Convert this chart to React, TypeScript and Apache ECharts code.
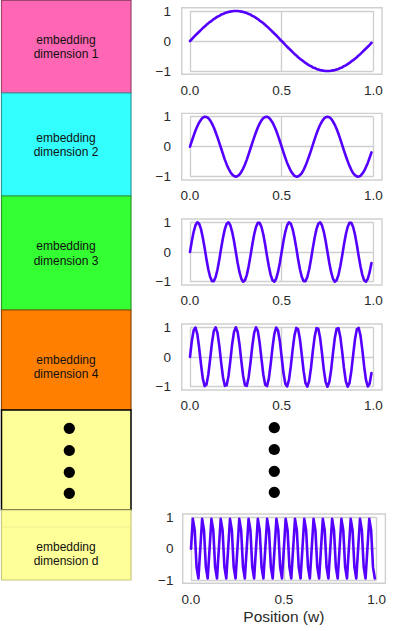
import React, { useEffect, useRef } from "react";
import * as echarts from "echarts";

// ---- data ----
const xTicks = [0, 0.5, 1];
const yTicks = [-1, 0, 1];
const sampleStep = 0.01; // positions w = 0.00, 0.01, ..., 0.99

const wave1 = [
  0, 0.06, 0.13, 0.19, 0.25, 0.31, 0.37, 0.43, 0.48, 0.54,
  0.59, 0.64, 0.68, 0.73, 0.77, 0.81, 0.84, 0.88, 0.9, 0.93,
  0.95, 0.97, 0.98, 0.99, 1.0, 1.0, 1.0, 0.99, 0.98, 0.97,
  0.95, 0.93, 0.9, 0.88, 0.84, 0.81, 0.77, 0.73, 0.68, 0.64,
  0.59, 0.54, 0.48, 0.43, 0.37, 0.31, 0.25, 0.19, 0.13, 0.06,
  0, -0.06, -0.13, -0.19, -0.25, -0.31, -0.37, -0.43, -0.48, -0.54,
  -0.59, -0.64, -0.68, -0.73, -0.77, -0.81, -0.84, -0.88, -0.9, -0.93,
  -0.95, -0.97, -0.98, -0.99, -1.0, -1.0, -1.0, -0.99, -0.98, -0.97,
  -0.95, -0.93, -0.9, -0.88, -0.84, -0.81, -0.77, -0.73, -0.68, -0.64,
  -0.59, -0.54, -0.48, -0.43, -0.37, -0.31, -0.25, -0.19, -0.13, -0.06,
];

const wave2 = [
  0, 0.19, 0.37, 0.54, 0.68, 0.81, 0.9, 0.97, 1.0, 0.99,
  0.95, 0.88, 0.77, 0.64, 0.48, 0.31, 0.13, -0.06, -0.25, -0.43,
  -0.59, -0.73, -0.84, -0.93, -0.98, -1.0, -0.98, -0.93, -0.84, -0.73,
  -0.59, -0.43, -0.25, -0.06, 0.13, 0.31, 0.48, 0.64, 0.77, 0.88,
  0.95, 0.99, 1.0, 0.97, 0.9, 0.81, 0.68, 0.54, 0.37, 0.19,
  0, -0.19, -0.37, -0.54, -0.68, -0.81, -0.9, -0.97, -1.0, -0.99,
  -0.95, -0.88, -0.77, -0.64, -0.48, -0.31, -0.13, 0.06, 0.25, 0.43,
  0.59, 0.73, 0.84, 0.93, 0.98, 1.0, 0.98, 0.93, 0.84, 0.73,
  0.59, 0.43, 0.25, 0.06, -0.13, -0.31, -0.48, -0.64, -0.77, -0.88,
  -0.95, -0.99, -1.0, -0.97, -0.9, -0.81, -0.68, -0.54, -0.37, -0.19,
];

const wave3 = [
  0, 0.37, 0.68, 0.9, 1.0, 0.95, 0.77, 0.48, 0.13, -0.25,
  -0.59, -0.84, -0.98, -0.98, -0.84, -0.59, -0.25, 0.13, 0.48, 0.77,
  0.95, 1.0, 0.9, 0.68, 0.37, 0, -0.37, -0.68, -0.9, -1.0,
  -0.95, -0.77, -0.48, -0.13, 0.25, 0.59, 0.84, 0.98, 0.98, 0.84,
  0.59, 0.25, -0.13, -0.48, -0.77, -0.95, -1.0, -0.9, -0.68, -0.37,
  0, 0.37, 0.68, 0.9, 1.0, 0.95, 0.77, 0.48, 0.13, -0.25,
  -0.59, -0.84, -0.98, -0.98, -0.84, -0.59, -0.25, 0.13, 0.48, 0.77,
  0.95, 1.0, 0.9, 0.68, 0.37, 0, -0.37, -0.68, -0.9, -1.0,
  -0.95, -0.77, -0.48, -0.13, 0.25, 0.59, 0.84, 0.98, 0.98, 0.84,
  0.59, 0.25, -0.13, -0.48, -0.77, -0.95, -1.0, -0.9, -0.68, -0.37,
];

const wave4 = [
  0, 0.54, 0.9, 0.99, 0.77, 0.31, -0.25, -0.73, -0.98, -0.93,
  -0.59, -0.06, 0.48, 0.88, 1.0, 0.81, 0.37, -0.19, -0.68, -0.97,
  -0.95, -0.64, -0.13, 0.43, 0.84, 1.0, 0.84, 0.43, -0.13, -0.64,
  -0.95, -0.97, -0.68, -0.19, 0.37, 0.81, 1.0, 0.88, 0.48, -0.06,
  -0.59, -0.93, -0.98, -0.73, -0.25, 0.31, 0.77, 0.99, 0.9, 0.54,
  0, -0.54, -0.9, -0.99, -0.77, -0.31, 0.25, 0.73, 0.98, 0.93,
  0.59, 0.06, -0.48, -0.88, -1.0, -0.81, -0.37, 0.19, 0.68, 0.97,
  0.95, 0.64, 0.13, -0.43, -0.84, -1.0, -0.84, -0.43, 0.13, 0.64,
  0.95, 0.97, 0.68, 0.19, -0.37, -0.81, -1.0, -0.88, -0.48, 0.06,
  0.59, 0.93, 0.98, 0.73, 0.25, -0.31, -0.77, -0.99, -0.9, -0.54,
];

const waveD = [
  0, 0.95, 0.59, -0.59, -0.95, 0, 0.95, 0.59, -0.59, -0.95,
  0, 0.95, 0.59, -0.59, -0.95, 0, 0.95, 0.59, -0.59, -0.95,
  0, 0.95, 0.59, -0.59, -0.95, 0, 0.95, 0.59, -0.59, -0.95,
  0, 0.95, 0.59, -0.59, -0.95, 0, 0.95, 0.59, -0.59, -0.95,
  0, 0.95, 0.59, -0.59, -0.95, 0, 0.95, 0.59, -0.59, -0.95,
  0, 0.95, 0.59, -0.59, -0.95, 0, 0.95, 0.59, -0.59, -0.95,
  0, 0.95, 0.59, -0.59, -0.95, 0, 0.95, 0.59, -0.59, -0.95,
  0, 0.95, 0.59, -0.59, -0.95, 0, 0.95, 0.59, -0.59, -0.95,
  0, 0.95, 0.59, -0.59, -0.95, 0, 0.95, 0.59, -0.59, -0.95,
  0, 0.95, 0.59, -0.59, -0.95, 0, 0.95, 0.59, -0.59, -0.95,
];

const waves = [wave1, wave2, wave3, wave4, waveD];
const boxLabels = [
  "embedding\ndimension 1",
  "embedding\ndimension 2",
  "embedding\ndimension 3",
  "embedding\ndimension 4",
  "embedding\ndimension d",
];
const xAxisTitle = "Position (w)";

// ---- layout / style ----
const FONT = '"Liberation Sans", Arial, sans-serif';
const LINE_COLOR = "#5500ff";
const GRID_COLOR = "#cfcfcf";
const TICK_COLOR = "#2a2a2a";

const plots = [
  { left: 190, top: 11, width: 183.3, height: 60, yMargin: 19 },
  { left: 190, top: 116.7, width: 183.3, height: 60, yMargin: 19 },
  { left: 190, top: 222.3, width: 183.3, height: 59.4, yMargin: 19 },
  { left: 190, top: 327.3, width: 183.3, height: 59.4, yMargin: 19 },
  { left: 191, top: 517.3, width: 185.7, height: 62.7, yMargin: 17.5 },
];

const boxes = [
  { y: 0.5, h: 92.5, fill: "#ff66b3", stroke: "#a0446f", textY: 47 },
  { y: 93, h: 103, fill: "#33ffff", stroke: "#2a9d9d", textY: 145 },
  { y: 196, h: 114, fill: "#33ff33", stroke: "#2a9a2a", textY: 253.5 },
  { y: 310, h: 100, fill: "#ff8000", stroke: "#8a4800", textY: 367 },
  { y: 410, h: 100, fill: "#ffff99", stroke: "#000000", textY: -1 },
  { y: 510, h: 70, fill: "#ffff99", stroke: "#c8c878", textY: 554 },
];

const leftDotsY = [428.3, 450.5, 472.3, 493.3];
const rightDotsY = [427.7, 449.5, 471.3, 492.3];

export default function App() {
  const ref = useRef<HTMLDivElement>(null);

  useEffect(() => {
    if (!ref.current) return;
    const chart = echarts.init(ref.current, undefined, { renderer: "svg" });

    const grids = plots.map((p) => ({
      left: p.left,
      top: p.top,
      width: p.width,
      height: p.height,
      containLabel: false,
    }));

    const xAxes = plots.map((p, i) => ({
      type: "value",
      gridIndex: i,
      min: xTicks[0],
      max: xTicks[xTicks.length - 1],
      interval: 0.5,
      axisLine: { show: false },
      axisTick: { show: false },
      axisLabel: {
        margin: 12,
        color: TICK_COLOR,
        fontSize: 13.5,
        fontFamily: FONT,
        formatter: (v: number) => v.toFixed(1),
      },
      splitLine: { show: true, lineStyle: { color: GRID_COLOR, width: 1.4 } },
      name: i === plots.length - 1 ? xAxisTitle : "",
      nameLocation: "middle",
      nameGap: 28,
      nameTextStyle: { color: TICK_COLOR, fontSize: 15.5, fontFamily: FONT },
    }));

    const yAxes = plots.map((p, i) => ({
      type: "value",
      gridIndex: i,
      min: yTicks[0],
      max: yTicks[yTicks.length - 1],
      interval: 1,
      axisLine: { show: false },
      axisTick: { show: false },
      axisLabel: {
        margin: p.yMargin,
        color: TICK_COLOR,
        fontSize: 13.5,
        fontFamily: FONT,
        formatter: (v: number) => (v < 0 ? "\u2212" + Math.abs(v) : String(v)),
      },
      splitLine: { show: true, lineStyle: { color: GRID_COLOR, width: 1.4 } },
    }));

    const series = waves.map((w, i) => ({
      type: "line",
      xAxisIndex: i,
      yAxisIndex: i,
      data: w.map((y, k) => [k * sampleStep, y]),
      showSymbol: false,
      symbol: "none",
      clip: false,
      lineStyle: { color: LINE_COLOR, width: 2.6, join: "round", cap: "round" },
      z: 5,
    }));

    const graphics: any[] = [];
    // frames around plot areas
    plots.forEach((p) => {
      graphics.push({
        type: "rect",
        shape: { x: p.left - 8.3, y: p.top - 3.3, width: p.width + 17, height: p.height + 6.6 },
        style: { fill: "none", stroke: GRID_COLOR, lineWidth: 1.4 },
        z: 1,
        silent: true,
      });
    });
    // left boxes
    boxes.forEach((b) => {
      graphics.push({
        type: "rect",
        shape: { x: 1.5, y: b.y, width: 129.5, height: b.h },
        style: { fill: b.fill, stroke: b.stroke, lineWidth: b.stroke === "#000000" ? 1.5 : 1.2 },
        z: 1,
      });
    });
    graphics.push({
      type: "line",
      shape: { x1: 2, y1: 527, x2: 130.5, y2: 527 },
      style: { stroke: "#eeee90", lineWidth: 1 },
      z: 2,
    });
    // box labels
    let li = 0;
    boxes.forEach((b) => {
      if (b.textY < 0) return;
      graphics.push({
        type: "text",
        x: 66,
        y: b.textY,
        style: {
          text: boxLabels[li],
          align: "center",
          verticalAlign: "middle",
          fontSize: 12,
          fontFamily: FONT,
          lineHeight: 14.5,
          fill: "#111111",
        },
        z: 3,
      });
      li++;
    });
    // dots
    leftDotsY.forEach((y) => {
      graphics.push({ type: "circle", shape: { cx: 69.3, cy: y, r: 5.6 }, style: { fill: "#000" }, z: 3 });
    });
    rightDotsY.forEach((y) => {
      graphics.push({ type: "circle", shape: { cx: 274.3, cy: y, r: 5.6 }, style: { fill: "#000" }, z: 3 });
    });

    chart.setOption({
      animation: false,
      backgroundColor: "#ffffff",
      grid: grids,
      xAxis: xAxes,
      yAxis: yAxes,
      series,
      graphic: graphics,
    } as any);

    return () => chart.dispose();
  }, []);

  return (
    <div
      ref={ref}
      style={{ position: "absolute", left: 0, top: 0, width: 397, height: 631 }}
    />
  );
}
